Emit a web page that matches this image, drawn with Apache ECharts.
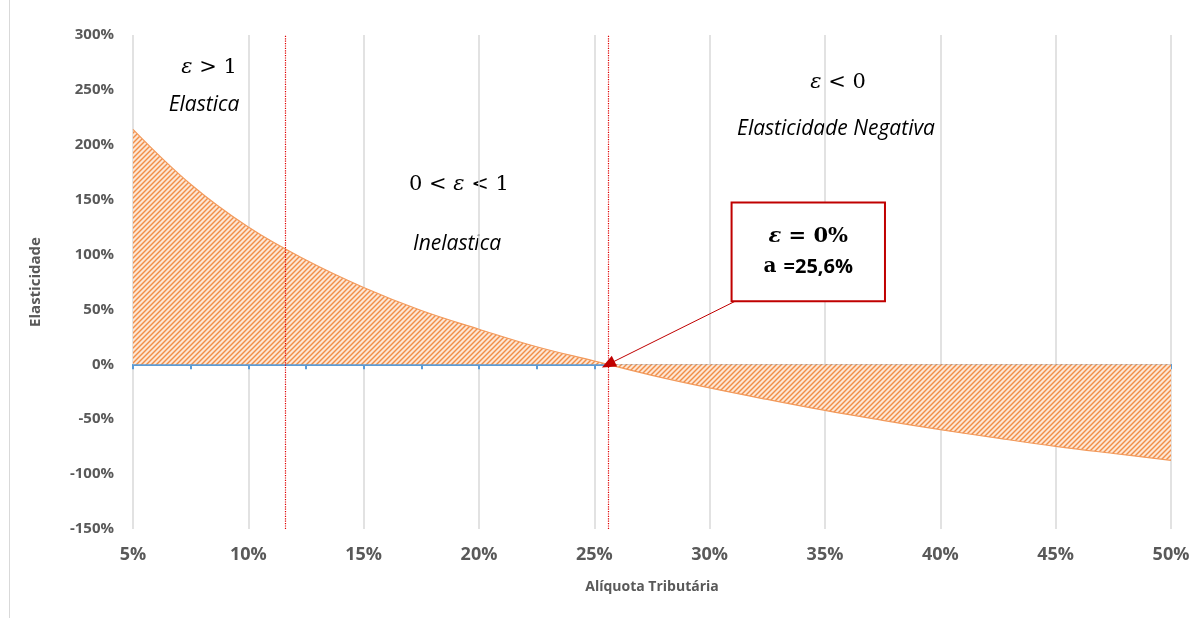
<!DOCTYPE html>
<html>
<head>
<meta charset="utf-8">
<script src="https://cdn.jsdelivr.net/npm/echarts@6/dist/echarts.min.js"></script>
<style>
html,body{margin:0;padding:0;background:#fff;}
#chart{width:1202px;height:618px;}
</style>
</head>
<body>
<div id="chart"></div>
<script>
// ---- data ----
const aliquota = [5, 7.5, 10, 12.5, 15, 17.5, 20, 22.5, 25, 27.5, 30, 32.5, 35, 37.5, 40, 42.5, 45, 47.5, 50];
const elasticidade = [214, 164, 125, 95, 70, 49, 32, 16, 3, -10, -21.5, -32, -42, -51, -59.5, -67.3, -74.7, -81.2, -87.4];
const xTicks = [5, 50, 5];          // min, max, step (%)
const yTicks = [-150, 300, 50];     // min, max, step (%)
const regionLimits = [11.6, 25.6];  // vertical dotted lines (%)
const zeroPoint = [25.6, 0];
const boxCorners = [[30.95, 147.5], [37.6, 57.4]];
const arrowStart = [31.1, 57.4];

// ---- hatch pattern ----
function makeHatch() {
  const n = 5;
  const c = document.createElement('canvas');
  c.width = n; c.height = n;
  const ctx = c.getContext('2d');
  const img = ctx.createImageData(n, n);
  const cols = {
    dark: [240, 142, 72],
    mid: [247, 186, 142],
    light: [253, 230, 212]
  };
  for (let y = 0; y < n; y++) {
    for (let x = 0; x < n; x++) {
      const d = (x + y) % n;
      let col = cols.light;
      if (d === 0) col = cols.dark;
      else if (d === 1 || d === n - 1) col = cols.mid;
      const i = (y * n + x) * 4;
      img.data[i] = col[0]; img.data[i + 1] = col[1]; img.data[i + 2] = col[2]; img.data[i + 3] = 255;
    }
  }
  ctx.putImageData(img, 0, 0);
  return c;
}

const chart = echarts.init(document.getElementById('chart'), null, {renderer: 'canvas'});
const labelColor = '#595959';
const sans = '"Open Sans", "Noto Sans", sans-serif';
const serif = '"DejaVu Serif", "Liberation Serif", serif';
const redDot = {color: '#e00000', type: 'dotted', width: 1.2};

const option = {
  backgroundColor: '#fff',
  animation: false,
  grid: {left: 133, right: 31, top: 35, bottom: 89},
  xAxis: [
    {
      type: 'value', min: xTicks[0], max: xTicks[1], interval: xTicks[2], position: 'bottom',
      axisLine: {show: false, onZero: false},
      axisTick: {show: false},
      axisLabel: {formatter: '{value}%', color: labelColor, fontFamily: sans, fontWeight: 'bold', fontSize: 18, margin: 17},
      splitLine: {show: true, lineStyle: {color: '#d9d9d9', width: 1.5}},
      name: 'Alíquota Tributária', nameLocation: 'middle', nameGap: 51,
      nameTextStyle: {color: labelColor, fontFamily: sans, fontWeight: 'bold', fontSize: 14}
    },
    {
      type: 'value', min: xTicks[0], max: xTicks[1], interval: xTicks[2], position: 'bottom',
      axisLine: {show: true, onZero: true, lineStyle: {color: '#5b9bd5', width: 2}},
      axisTick: {show: true, inside: false, length: 5, lineStyle: {color: '#5b9bd5', width: 2}},
      minorTick: {show: true, splitNumber: 2, length: 5, lineStyle: {color: '#5b9bd5', width: 2}},
      axisLabel: {show: false},
      splitLine: {show: false}
    }
  ],
  yAxis: {
    type: 'value', min: yTicks[0], max: yTicks[1], interval: yTicks[2],
    axisLine: {show: false}, axisTick: {show: false}, splitLine: {show: false},
    axisLabel: {formatter: '{value}%', color: labelColor, fontFamily: sans, fontWeight: 'bold', fontSize: 15, margin: 19},
    name: 'Elasticidade', nameLocation: 'middle', nameRotate: 90, nameGap: 90,
    nameTextStyle: {color: labelColor, fontFamily: sans, fontWeight: 'bold', fontSize: 15}
  },
  series: [
    {
      type: 'line',
      xAxisIndex: 0,
      data: aliquota.map((a, i) => [a, elasticidade[i]]),
      showSymbol: false, symbol: 'none',
      smooth: 0.4,
      lineStyle: {color: '#f29a5c', width: 1.2},
      areaStyle: {color: {image: makeHatch(), repeat: 'repeat'}, opacity: 1},
      z: 2,
      markArea: {
        silent: true,
        itemStyle: {color: '#ffffff', borderColor: '#c00000', borderWidth: 2},
        label: {
          show: true, position: 'inside', align: 'center', verticalAlign: 'middle',
          formatter: '{ei|ε}{eq| = 0%}\n{as|a }{an|=25,6%}',
          rich: {
            ei: {fontFamily: serif, fontStyle: 'italic', fontWeight: 'bold', fontSize: 21, color: '#000', lineHeight: 30},
            eq: {fontFamily: serif, fontWeight: 'bold', fontSize: 21, color: '#000', lineHeight: 30},
            as: {fontFamily: serif, fontWeight: 'bold', fontSize: 20, color: '#000', lineHeight: 30},
            an: {fontFamily: sans, fontWeight: 'bold', fontSize: 20, color: '#000', lineHeight: 30}
          }
        },
        data: [[{coord: boxCorners[0]}, {coord: boxCorners[1]}]]
      },
      markLine: {
        silent: true,
        symbol: ['none', 'none'],
        label: {show: false},
        lineStyle: redDot,
        data: [
          {xAxis: regionLimits[0], lineStyle: redDot},
          {xAxis: regionLimits[1], lineStyle: redDot},
          [
            {coord: arrowStart, symbol: 'none', lineStyle: {color: '#c00000', type: 'solid', width: 1}},
            {coord: zeroPoint, symbol: 'triangle', symbolSize: [12, 14]}
          ]
        ]
      }
    }
  ],
  graphic: [
    {type: 'line', shape: {x1: 9.5, y1: 0, x2: 9.5, y2: 618}, style: {stroke: '#d9d9d9', lineWidth: 1}, silent: true},
    {type: 'text', x: 209, y: 68, style: {text: '{i|ε} > 1', rich: {i: {fontStyle: 'italic', fontFamily: serif, fontSize: 21}}, fontFamily: serif, fontSize: 21, fill: '#000', align: 'center', verticalAlign: 'middle'}},
    {type: 'text', x: 204, y: 105, style: {text: 'Elastica', fontFamily: sans, fontStyle: 'italic', fontSize: 21, fill: '#000', align: 'center', verticalAlign: 'middle'}},
    {type: 'text', x: 459, y: 185, style: {text: '0 < {i|ε} < 1', rich: {i: {fontStyle: 'italic', fontFamily: serif, fontSize: 21}}, fontFamily: serif, fontSize: 21, fill: '#000', align: 'center', verticalAlign: 'middle'}},
    {type: 'text', x: 457, y: 244, style: {text: 'Inelastica', fontFamily: sans, fontStyle: 'italic', fontSize: 21, fill: '#000', align: 'center', verticalAlign: 'middle'}},
    {type: 'text', x: 838, y: 83, style: {text: '{i|ε} < 0', rich: {i: {fontStyle: 'italic', fontFamily: serif, fontSize: 21}}, fontFamily: serif, fontSize: 21, fill: '#000', align: 'center', verticalAlign: 'middle'}},
    {type: 'text', x: 836, y: 129, style: {text: 'Elasticidade Negativa', fontFamily: sans, fontStyle: 'italic', fontSize: 21, fill: '#000', align: 'center', verticalAlign: 'middle'}}
  ]
};
chart.setOption(option);
</script>
</body>
</html>
